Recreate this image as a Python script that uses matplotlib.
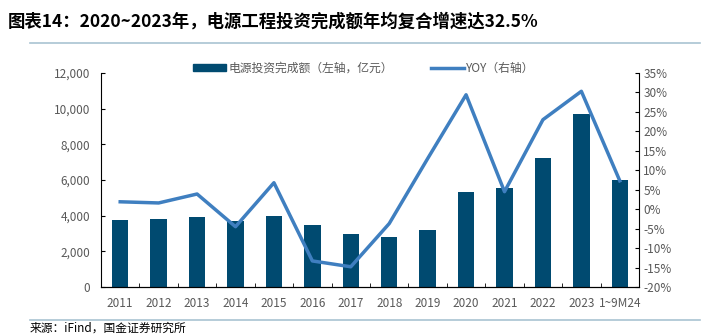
import numpy as np
import matplotlib.pyplot as plt
from matplotlib.lines import Line2D

plt.rcParams['font.family'] = ['Noto Sans CJK SC', 'DejaVu Sans']
plt.rcParams['axes.unicode_minus'] = False

# 电源工程投资完成额（亿元）及同比
years = ['2011', '2012', '2013', '2014', '2015', '2016', '2017', '2018',
         '2019', '2020', '2021', '2022', '2023', '1~9M24']
invest = [3750, 3810, 3930, 3720, 3990, 3460, 2970, 2820,
          3180, 5330, 5570, 7230, 9700, 6000]
yoy = [1.9, 1.6, 3.9, -4.5, 6.8, -13.3, -14.8, -3.7,
       13.0, 29.4, 4.5, 23.0, 30.3, 7.3]

bar_color = '#004a70'
line_color = '#3f7fc0'
grey = '#595959'

fig = plt.figure(figsize=(7.06, 3.36), dpi=100)
ax = fig.add_axes([101 / 706, 1 - 287 / 336, 538 / 706, 214 / 336])
x = np.arange(len(years))
ax.bar(x, invest, width=0.43, color=bar_color, zorder=2)
ax.set_xlim(-0.5, len(years) - 0.5)
ax.set_ylim(0, 12000)
ax.set_yticks(np.arange(0, 12001, 2000))
ax.set_yticklabels([f'{v:,}' for v in range(0, 12001, 2000)])
ax.set_xticks(x)
ax.set_xticklabels(years)
ax.set_xticks(np.arange(-0.5, len(years), 1), minor=True)
ax.tick_params(axis='x', which='major', length=0, colors=grey, labelsize=8.5, pad=7)
ax.tick_params(axis='x', which='minor', direction='in', length=3, color='black')
ax.tick_params(axis='y', direction='in', length=3, color='black', labelcolor=grey,
               labelsize=8.5, pad=8)
for s in ['top', 'right']:
    ax.spines[s].set_visible(False)

ax2 = ax.twinx()
ax2.plot(x, yoy, color=line_color, lw=2.5, zorder=3)
ax2.set_ylim(-20, 35)
ax2.set_yticks(np.arange(-20, 36, 5))
ax2.set_yticklabels([f'{v}%' for v in range(-20, 36, 5)])
ax2.tick_params(axis='y', direction='in', length=3, color='black', labelcolor=grey,
                labelsize=8.5, pad=3)
for s in ['top', 'left']:
    ax2.spines[s].set_visible(False)

handles = [plt.Rectangle((0, 0), 1, 1, color=bar_color),
           Line2D([0], [0], color=line_color, lw=2.5)]
fig.legend(handles, ['电源投资完成额（左轴，亿元）', 'YOY（右轴）'],
           loc='center', bbox_to_anchor=(0.515, 1 - 68 / 336), ncol=2, frameon=False,
           fontsize=8.5, labelcolor=grey, handlelength=2.8, handleheight=0.6,
           columnspacing=3.2, handletextpad=0.2)

fig.text(8 / 706, 1 - 22 / 336, '图表14：2020~2023年，电源工程投资完成额年均复合增速达32.5%',
         fontsize=12.5, fontweight='bold', fontstyle='italic', va='center', ha='left')
fig.add_artist(Line2D([30 / 706, 700 / 706], [1 - 43 / 336] * 2, color='#a9c4d2', lw=1.2))
fig.add_artist(Line2D([30 / 706, 700 / 706], [1 - 320 / 336] * 2, color='#a9c4d2', lw=1.2))
fig.text(30 / 706, 1 - 328 / 336, '来源：iFind，国金证券研究所', fontsize=8.5, va='center', ha='left')

fig.savefig('out.png', dpi=100)
